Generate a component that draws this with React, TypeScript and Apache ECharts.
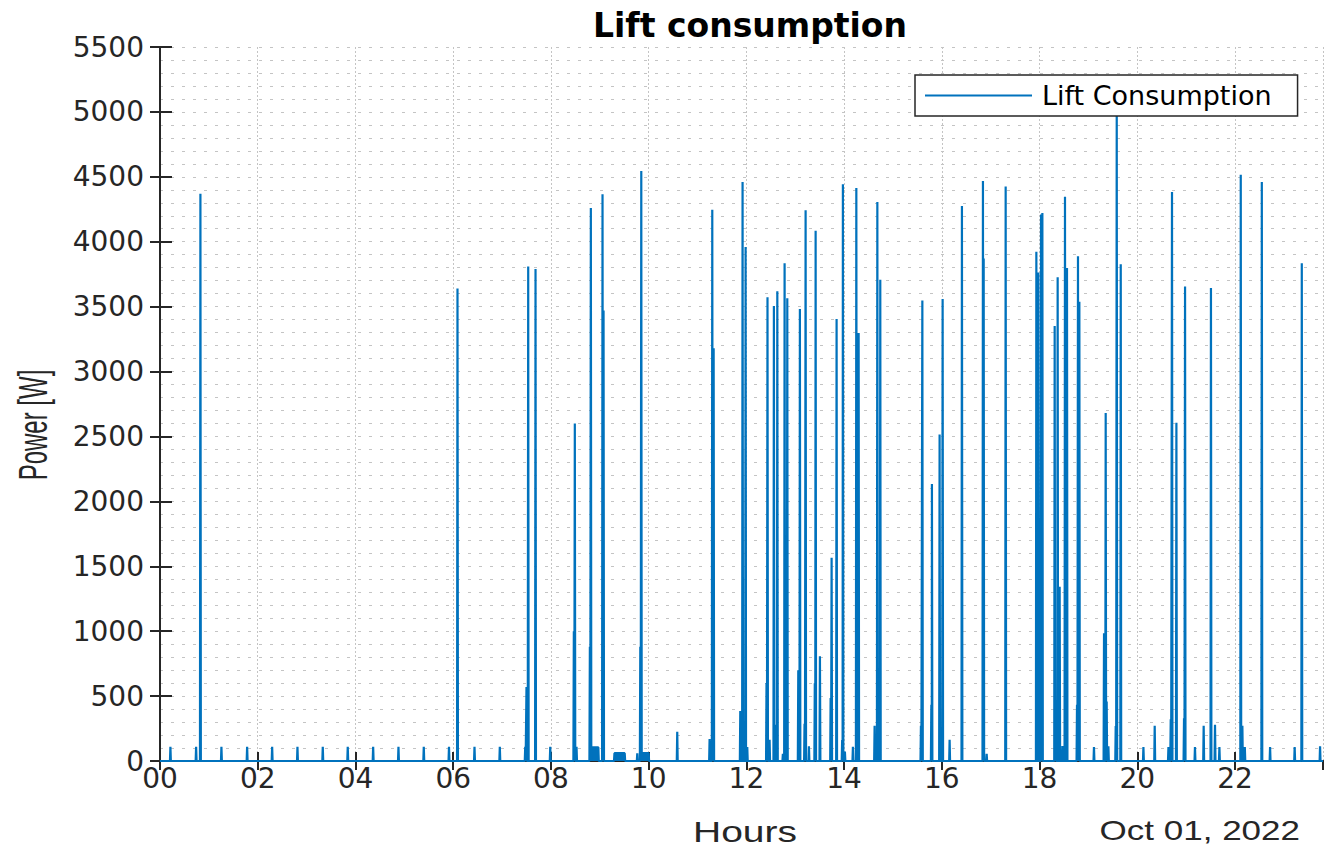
import React, { useEffect, useRef } from "react";
import * as echarts from "echarts";

// ---- data (hours of day, watts) ----
const X_MIN = 0;
const X_MAX = 23.8;
const xTickHours = [0, 2, 4, 6, 8, 10, 12, 14, 16, 18, 20, 22];
const Y_MAX = 5500;

const spikeHours = [
  0.213, 0.739, 0.827, 1.257, 1.783, 2.295, 2.813, 3.331, 3.842, 4.362, 4.88, 5.398, 5.914,
  6.088, 6.436, 6.954, 7.474, 7.5, 7.535, 7.685, 7.986, 8.469, 8.489, 8.524, 8.797, 8.817,
  9.056, 9.077, 9.767, 9.829, 9.849, 10.585, 11.247, 11.302, 11.33, 11.875, 11.922, 11.984,
  12.018, 12.412, 12.432, 12.475, 12.563, 12.6, 12.633, 12.747, 12.782, 12.837, 13.062, 13.095,
  13.19, 13.212, 13.28, 13.4, 13.417, 13.505, 13.724, 13.744, 13.846, 13.96, 13.975, 14.016,
  14.18, 14.25, 14.297, 14.624, 14.68, 14.74, 15.572, 15.601, 15.785, 15.797, 15.954, 16.016,
  16.159, 16.411, 16.841, 16.856, 16.917, 17.306, 17.934, 17.975, 18.03, 18.057, 18.309, 18.33,
  18.37, 18.411, 18.467, 18.52, 18.561, 18.766, 18.786, 18.814, 19.113, 19.319, 19.353, 19.373,
  19.408, 19.558, 19.579, 19.661, 20.125, 20.356, 20.637, 20.684, 20.71, 20.8, 20.956, 20.977,
  21.18, 21.358, 21.507, 21.59, 21.68, 22.117, 22.15, 22.2, 22.548, 22.717, 23.22, 23.366, 23.74,
];
const spikeWatts = [
  110, 110, 4370, 110, 110, 110, 110, 110, 110, 110, 110, 110, 110,
  3640, 110, 110, 110, 570, 3810, 3790, 110, 1000, 2600, 110, 880, 4260,
  4365, 3470, 60, 880, 4545, 225, 170, 4246, 3180, 385, 4460, 3960,
  107, 600, 3572, 164, 3505, 280, 3619, 56, 3834, 3565, 699, 3482,
  287, 4243, 113, 598, 4085, 806, 485, 1566, 3404, 161, 4443, 72,
  110, 4414, 3296, 272, 4306, 3708, 272, 3547, 433, 2133, 2516, 3558,
  164, 4275, 4468, 3870, 56, 4425, 3923, 3762, 4210, 4221, 3350, 215,
  3726, 1343, 115, 4346, 3798, 433, 3888, 3537, 108, 985, 2680, 459,
  113, 269, 5050, 3826, 108, 272, 108, 322, 4383, 2605, 330, 3655,
  108, 272, 3644, 280, 108, 4515, 272, 108, 4461, 108, 108, 3834, 113,
];
const plateauStart = [8.84, 9.3, 9.87];
const plateauEnd = [8.97, 9.51, 10.0];
const plateauWatts = [105, 60, 60];

const pad2 = (v: number) => (v < 10 ? "0" : "") + v;

function buildLine(): number[][] {
  const items: { s: number; e: number; v: number }[] = [];
  spikeHours.forEach((h, i) => items.push({ s: h, e: h, v: spikeWatts[i] }));
  plateauStart.forEach((s, i) => items.push({ s, e: plateauEnd[i], v: plateauWatts[i] }));
  items.sort((a, b) => a.s - b.s);
  const d = 0.009;
  const pts: number[][] = [[X_MIN, 0]];
  for (const it of items) {
    pts.push([it.s - d, 0], [it.s, it.v]);
    if (it.e > it.s) pts.push([it.e, it.v]);
    pts.push([it.e + d, 0]);
  }
  pts.push([X_MAX, 0]);
  return pts;
}

const AXIS_COLOR = "#262626";
const GRID_COLOR = "#c4c4c4";
const FONT = "DejaVu Sans";
const HELV = "'Liberation Sans', Arial, sans-serif";

export default function App() {
  const ref = useRef<HTMLDivElement>(null);
  useEffect(() => {
    if (!ref.current) return;
    const chart = echarts.init(ref.current, undefined, { renderer: "svg" });
    const baseX = {
      type: "value" as const,
      min: X_MIN,
      max: X_MAX,
      interval: 2,
    };
    const baseY = {
      type: "value" as const,
      min: 0,
      max: Y_MAX,
      interval: 500,
    };
    chart.setOption({
      animation: false,
      backgroundColor: "#ffffff",
      title: {
        text: "Lift consumption",
        left: 745,
        top: 4,
        textAlign: "center",
        textStyle: { fontFamily: FONT, fontWeight: "bold", fontSize: 33, color: "#000" },
      },
      legend: {
        left: 915,
        top: 75,
        padding: [7, 26, 7, 10],
        backgroundColor: "#ffffff",
        borderColor: "#262626",
        borderWidth: 1.5,
        borderRadius: 0,
        icon: "rect",
        itemWidth: 107,
        itemHeight: 2,
        textStyle: { fontFamily: FONT, fontSize: 27, color: "#000", padding: [0, 0, 0, 5] },
        data: ["Lift Consumption"],
      },
      grid: { left: 160, top: 47, right: 1, bottom: 87, containLabel: false },
      xAxis: [
        {
          ...baseX,
          position: "bottom",
          axisLine: { show: true, lineStyle: { color: AXIS_COLOR, width: 2 } },
          axisTick: { show: true, inside: true, length: 9, lineStyle: { color: AXIS_COLOR, width: 2 } },
          axisLabel: {
            show: true,
            margin: 3,
            fontFamily: FONT,
            fontSize: 28,
            color: AXIS_COLOR,
            showMaxLabel: false,
            formatter: (v: number) => (xTickHours.indexOf(v) >= 0 ? pad2(v) : ""),
          },
          splitLine: { show: true, lineStyle: { color: GRID_COLOR, type: [2, 2], width: 1 } },
        },
        {
          ...baseX,
          position: "top",
          axisLine: { show: true, lineStyle: { color: AXIS_COLOR, width: 2 } },
          axisTick: { show: true, inside: true, length: 9, lineStyle: { color: AXIS_COLOR, width: 2 } },
          axisLabel: { show: false },
          splitLine: { show: false },
        },
      ],
      yAxis: [
        {
          ...baseY,
          position: "left",
          axisLine: { show: true, lineStyle: { color: AXIS_COLOR, width: 2 } },
          axisTick: { show: true, inside: true, length: 12, lineStyle: { color: AXIS_COLOR, width: 2 } },
          axisLabel: {
            show: true,
            margin: 16,
            fontFamily: FONT,
            fontSize: 28,
            color: AXIS_COLOR,
            formatter: (v: number) => String(v),
          },
          splitLine: { show: true, lineStyle: { color: GRID_COLOR, type: [3, 8], width: 1 } },
          minorTick: { show: false, splitNumber: 5 },
          minorSplitLine: { show: true, lineStyle: { color: GRID_COLOR, type: [3, 8], width: 1 } },
        },
        {
          ...baseY,
          position: "right",
          axisLine: { show: true, lineStyle: { color: AXIS_COLOR, width: 2 } },
          axisTick: { show: true, inside: true, length: 10, lineStyle: { color: AXIS_COLOR, width: 2 } },
          axisLabel: { show: false },
          splitLine: { show: false },
        },
      ],
      graphic: [
        {
          type: "text",
          x: 33,
          y: 425,
          rotation: Math.PI / 2,
          scaleX: 0.6,
          scaleY: 1,
          style: {
            text: "Power [W]",
            fontFamily: HELV,
            fontSize: 40,
            fill: AXIS_COLOR,
            align: "center",
            verticalAlign: "middle",
          },
        },
        {
          type: "text",
          x: 745,
          y: 832,
          scaleX: 1.3,
          style: {
            text: "Hours",
            fontFamily: HELV,
            fontSize: 30,
            fill: AXIS_COLOR,
            align: "center",
            verticalAlign: "middle",
          },
        },
        {
          type: "text",
          x: 1300,
          y: 830,
          scaleX: 1.25,
          style: {
            text: "Oct 01, 2022",
            fontFamily: HELV,
            fontSize: 28,
            fill: AXIS_COLOR,
            align: "right",
            verticalAlign: "middle",
          },
        },
      ],
      series: [
        {
          name: "Lift Consumption",
          type: "line",
          xAxisIndex: 0,
          yAxisIndex: 0,
          showSymbol: false,
          symbol: "none",
          color: "#0072BD",
          lineStyle: { color: "#0072BD", width: 2.2, join: "bevel" },
          areaStyle: { color: "#0072BD", opacity: 1 },
          data: buildLine(),
          z: 2,
        },
      ],
    });
    return () => chart.dispose();
  }, []);
  return (
    <div
      ref={ref}
      style={{ position: "absolute", left: 0, top: 0, width: 1324, height: 848, background: "#fff" }}
    />
  );
}
